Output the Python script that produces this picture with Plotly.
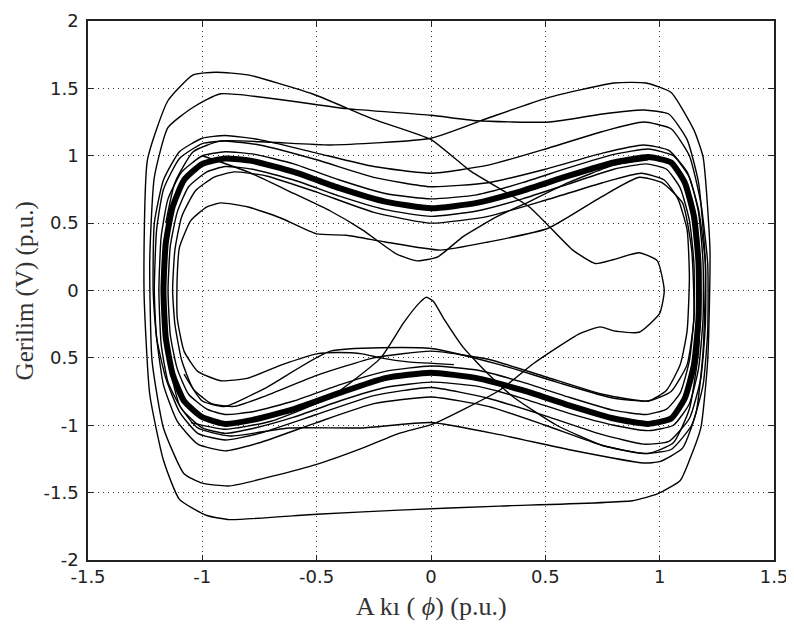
import plotly.graph_objects as go

# thick central band of the attractor
band_x = [-1.17, -1.16, -1.13, -1.08, -1.0, -0.9, -0.78, -0.6, -0.4, -0.2, 0.0, 0.2, 0.4, 0.6, 0.8, 0.95, 1.05, 1.11, 1.15, 1.17,
          1.17, 1.15, 1.11, 1.05, 0.95, 0.8, 0.6, 0.4, 0.2, 0.0, -0.2, -0.4, -0.6, -0.78, -0.9, -1.0, -1.08, -1.13, -1.16, -1.17]
band_y = [0.0, 0.35, 0.62, 0.82, 0.94, 0.98, 0.96, 0.88, 0.76, 0.66, 0.61, 0.65, 0.74, 0.85, 0.95, 0.99, 0.95, 0.8, 0.55, 0.2,
          -0.2, -0.55, -0.8, -0.95, -0.99, -0.95, -0.85, -0.74, -0.65, -0.61, -0.65, -0.76, -0.88, -0.96, -0.99, -0.94, -0.82, -0.62, -0.35, 0.0]

# companion loops around the band
ring1_x = [-1.19, -1.18, -1.15, -1.09, -1.0, -0.9, -0.77, -0.6, -0.4, -0.2, 0.0, 0.2, 0.4, 0.6, 0.8, 0.95, 1.06, 1.13, 1.17, 1.19,
           1.19, 1.17, 1.13, 1.06, 0.95, 0.8, 0.6, 0.4, 0.2, 0.0, -0.2, -0.4, -0.6, -0.77, -0.9, -1.0, -1.09, -1.15, -1.18, -1.19]
ring1_y = [0.0, 0.4, 0.68, 0.88, 1.0, 1.03, 1.01, 0.94, 0.82, 0.72, 0.68, 0.71, 0.8, 0.91, 1.01, 1.05, 1.0, 0.84, 0.58, 0.2,
           -0.2, -0.58, -0.84, -1.0, -1.04, -1.0, -0.91, -0.8, -0.71, -0.68, -0.72, -0.82, -0.94, -1.02, -1.06, -1.02, -0.88, -0.68, -0.4, 0.0]

ring2_x = [-1.15, -1.14, -1.11, -1.06, -0.98, -0.9, -0.78, -0.6, -0.4, -0.2, 0.0, 0.2, 0.4, 0.6, 0.8, 0.94, 1.03, 1.09, 1.13, 1.15,
           1.15, 1.13, 1.09, 1.03, 0.94, 0.8, 0.6, 0.4, 0.2, 0.0, -0.2, -0.4, -0.6, -0.78, -0.9, -0.98, -1.06, -1.11, -1.14, -1.15]
ring2_y = [0.0, 0.33, 0.58, 0.77, 0.88, 0.92, 0.9, 0.82, 0.7, 0.6, 0.55, 0.59, 0.68, 0.79, 0.9, 0.94, 0.9, 0.76, 0.52, 0.2,
           -0.2, -0.52, -0.76, -0.88, -0.92, -0.89, -0.79, -0.68, -0.59, -0.56, -0.6, -0.7, -0.82, -0.9, -0.92, -0.88, -0.77, -0.58, -0.33, 0.0]

ring3_x = [-1.21, -1.2, -1.17, -1.1, -1.0, -0.9, -0.75, -0.5, -0.25, 0.0, 0.25, 0.5, 0.75, 0.93, 1.04, 1.12, 1.17, 1.2,
           1.2, 1.18, 1.13, 1.04, 0.93, 0.75, 0.5, 0.25, 0.0, -0.25, -0.5, -0.75, -0.9, -1.02, -1.1, -1.16, -1.2, -1.21]
ring3_y = [0.0, 0.45, 0.75, 0.98, 1.09, 1.11, 1.08, 0.97, 0.84, 0.77, 0.8, 0.9, 1.02, 1.08, 1.04, 0.88, 0.6, 0.2,
           -0.25, -0.65, -0.95, -1.12, -1.14, -1.07, -0.93, -0.8, -0.72, -0.78, -0.92, -1.06, -1.11, -1.06, -0.9, -0.65, -0.35, 0.0]

ring4_x = [-1.215, -1.21, -1.17, -1.1, -1.0, -0.9, -0.75, -0.5, -0.25, 0.0, 0.25, 0.5, 0.75, 0.93, 1.05, 1.13, 1.18, 1.21,
           1.21, 1.19, 1.14, 1.05, 0.93, 0.75, 0.5, 0.25, 0.0, -0.25, -0.5, -0.75, -0.9, -1.02, -1.11, -1.17, -1.2, -1.215]
ring4_y = [0.0, 0.5, 0.82, 1.03, 1.13, 1.15, 1.12, 1.02, 0.92, 0.87, 0.93, 1.05, 1.18, 1.25, 1.2, 1.0, 0.65, 0.2,
           -0.3, -0.7, -1.0, -1.18, -1.21, -1.15, -1.0, -0.86, -0.79, -0.84, -0.98, -1.13, -1.19, -1.14, -0.97, -0.7, -0.35, 0.0]

ring5_x = [-1.13, -1.12, -1.09, -1.03, -0.95, -0.86, -0.72, -0.5, -0.25, 0.0, 0.25, 0.5, 0.75, 0.92, 1.02, 1.08, 1.12, 1.13,
           1.12, 1.09, 1.03, 0.95, 0.75, 0.5, 0.25, 0.0, -0.25, -0.5, -0.72, -0.86, -0.96, -1.04, -1.09, -1.12, -1.13]
ring5_y = [0.0, 0.3, 0.55, 0.74, 0.84, 0.88, 0.85, 0.73, 0.58, 0.5, 0.55, 0.67, 0.8, 0.87, 0.82, 0.68, 0.45, 0.1,
           -0.3, -0.55, -0.74, -0.82, -0.77, -0.64, -0.51, -0.45, -0.5, -0.63, -0.78, -0.86, -0.84, -0.73, -0.52, -0.25, 0.0]

# wide excursions (outer loops, inner right loop)
outer_x = [-1.16, -1.12, -1.04, -0.92, -0.7, -0.44, 0.0, 0.25, 0.51, 0.8, 0.94, 1.05, 1.15, 1.19, 1.22, 1.21, 1.18, 1.13, 1.09,
           0.99, 0.88, 0.3, -0.14, -0.5, -0.88, -0.98, -1.1, -1.17, -1.23, -1.255, -1.24, -1.15, -1.04, -0.94, -0.8, -0.52,
           -0.25, 0.0, 0.17, 0.43, 0.62, 0.72, 0.8, 0.91, 0.99, 1.02, 1.0, 0.91, 0.8, 0.74, 0.65, 0.45, 0.3, 0.01, -0.14,
           -0.3, -0.5, -0.88, -1.0, -1.08, -1.17, -1.22, -1.23, -1.21, -1.15, -1.04, -0.92, -0.37, 0.0, 0.2, 0.52, 0.75,
           0.93, 1.04, 1.12, 1.17, 1.2, 1.19, 1.16, 1.1, 1.0, 0.93, 0.6, 0.3, 0.0, -0.3, -0.62, -0.88, -1.02, -1.1, -1.15, -1.17]
outer_y = [0.5, 0.8, 1.03, 1.11, 1.1, 1.08, 1.13, 1.28, 1.43, 1.54, 1.54, 1.47, 1.19, 0.99, 0.3, -0.52, -1.02, -1.26, -1.41,
           -1.51, -1.56, -1.6, -1.63, -1.66, -1.7, -1.67, -1.55, -1.26, -0.77, 0.0, 0.97, 1.41, 1.6, 1.62, 1.6, 1.46,
           1.27, 1.12, 0.89, 0.62, 0.3, 0.2, 0.23, 0.28, 0.22, 0.0, -0.17, -0.31, -0.3, -0.27, -0.32, -0.54, -0.74, -0.99, -1.06,
           -1.17, -1.29, -1.45, -1.43, -1.36, -1.02, -0.52, 0.22, 0.84, 1.21, 1.36, 1.46, 1.35, 1.3, 1.26, 1.25, 1.31,
           1.34, 1.31, 1.12, 0.8, 0.2, -0.45, -0.9, -1.17, -1.27, -1.28, -1.18, -1.07, -0.98, -1.02, -1.02, -1.08, -1.02, -0.85, -0.5, 0.0]

# upper dip near the origin
dip_x = [-1.0, -0.8, -0.6, -0.44, -0.3, -0.15, -0.06, 0.03, 0.14, 0.29, 0.43, 0.6, 0.8, 0.95]
dip_y = [1.0, 0.88, 0.72, 0.59, 0.45, 0.27, 0.22, 0.25, 0.4, 0.55, 0.66, 0.8, 0.93, 0.97]

# lower cusp near the origin
cusp_x = [-1.05, -0.9, -0.7, -0.44, -0.22, -0.12, -0.05, -0.02, 0.01, 0.06, 0.14, 0.25, 0.36, 0.55, 0.75, 0.95, 1.06, 1.13, 1.17, 1.18]
cusp_y = [-0.98, -1.03, -0.97, -0.79, -0.5, -0.24, -0.09, -0.05, -0.08, -0.22, -0.42, -0.62, -0.79, -1.0, -1.15, -1.21, -1.13, -0.88, -0.45, 0.0]

# inner left loop running over to the right side
inner_x = [0.1, -0.1, -0.22, -0.3, -0.41, -0.5, -0.65, -0.8, -0.92, -1.02, -1.08, -1.11, -1.11, -1.1, -1.05, -0.98, -0.92,
           -0.8, -0.66, -0.5, -0.37, -0.2, 0.04, 0.25, 0.51, 0.74, 0.91, 1.01, 1.1, 1.14, 1.15, 1.12, 1.05, 0.95, 0.8, 0.55,
           0.3, 0.0, -0.44, -0.72, -0.9, -1.0, -1.08]
inner_y = [-0.55, -0.53, -0.5, -0.47, -0.46, -0.47, -0.55, -0.65, -0.67, -0.6, -0.45, -0.2, 0.1, 0.32, 0.52, 0.62, 0.65,
           0.62, 0.54, 0.42, 0.41, 0.36, 0.3, 0.36, 0.46, 0.69, 0.84, 0.8, 0.65, 0.3, -0.2, -0.55, -0.75, -0.82, -0.8, -0.68,
           -0.55, -0.43, -0.45, -0.72, -0.86, -0.82, -0.62]

x_ticks = [-1.5, -1, -0.5, 0, 0.5, 1, 1.5]
x_ticktext = ["-1.5", "-1", "-0.5", "0", "0.5", "1", "1.5"]
y_ticks = [2, 1.5, 1, 0.5, 0, -0.5, -1, -1.5, -2]
y_ticktext = ["2", "1.5", "1", "0.5", "0", "0.5", "-1", "-1.5", "-2"]

curves = [
    (ring1_x, ring1_y), (ring2_x, ring2_y), (ring3_x, ring3_y), (ring4_x, ring4_y), (ring5_x, ring5_y),
    (outer_x, outer_y), (dip_x, dip_y), (cusp_x, cusp_y), (inner_x, inner_y),
]

fig = go.Figure()
for cx, cy in curves:
    fig.add_trace(go.Scatter(x=cx, y=cy, mode="lines",
                             line=dict(color="black", width=1.4, shape="spline", smoothing=0.5),
                             hoverinfo="skip"))
fig.add_trace(go.Scatter(x=band_x, y=band_y, mode="lines",
                         line=dict(color="black", width=6, shape="spline", smoothing=0.5),
                         hoverinfo="skip"))

axis_style = dict(
    showline=True, mirror="ticks", linecolor="#222", linewidth=1.5,
    ticks="inside", ticklen=5, tickcolor="#222",
    showgrid=True, gridcolor="#333", gridwidth=1, griddash="1px,4px",
    zeroline=False, automargin=False,
    tickfont=dict(family="DejaVu Sans", size=18, color="#222"),
)

fig.update_xaxes(range=[-1.5, 1.5], tickvals=x_ticks, ticktext=x_ticktext, **axis_style)
fig.update_yaxes(range=[-2, 2], tickvals=y_ticks, ticktext=y_ticktext, ticklabelstandoff=4, **axis_style)

# the page body adds an 8px offset, so the figure is 8px smaller than the window
fig.update_layout(
    width=786, height=619,
    margin=dict(l=80, r=20, t=13, b=67),
    paper_bgcolor="white", plot_bgcolor="white",
    showlegend=False,
    annotations=[
        dict(text="A kı ( <i>ϕ</i>) (p.u.)", xref="paper", yref="paper", x=0.5, y=-0.087,
             xanchor="center", yanchor="middle", showarrow=False,
             font=dict(family="Liberation Serif, Times New Roman", size=26, color="#333")),
        dict(text="Gerilim (V) (p.u.)", xref="paper", yref="paper", x=-0.092, y=0.5,
             xanchor="center", yanchor="middle", textangle=-90, showarrow=False,
             font=dict(family="Liberation Serif, Times New Roman", size=25, color="#333")),
    ],
)

fig.write_html("out.html")
